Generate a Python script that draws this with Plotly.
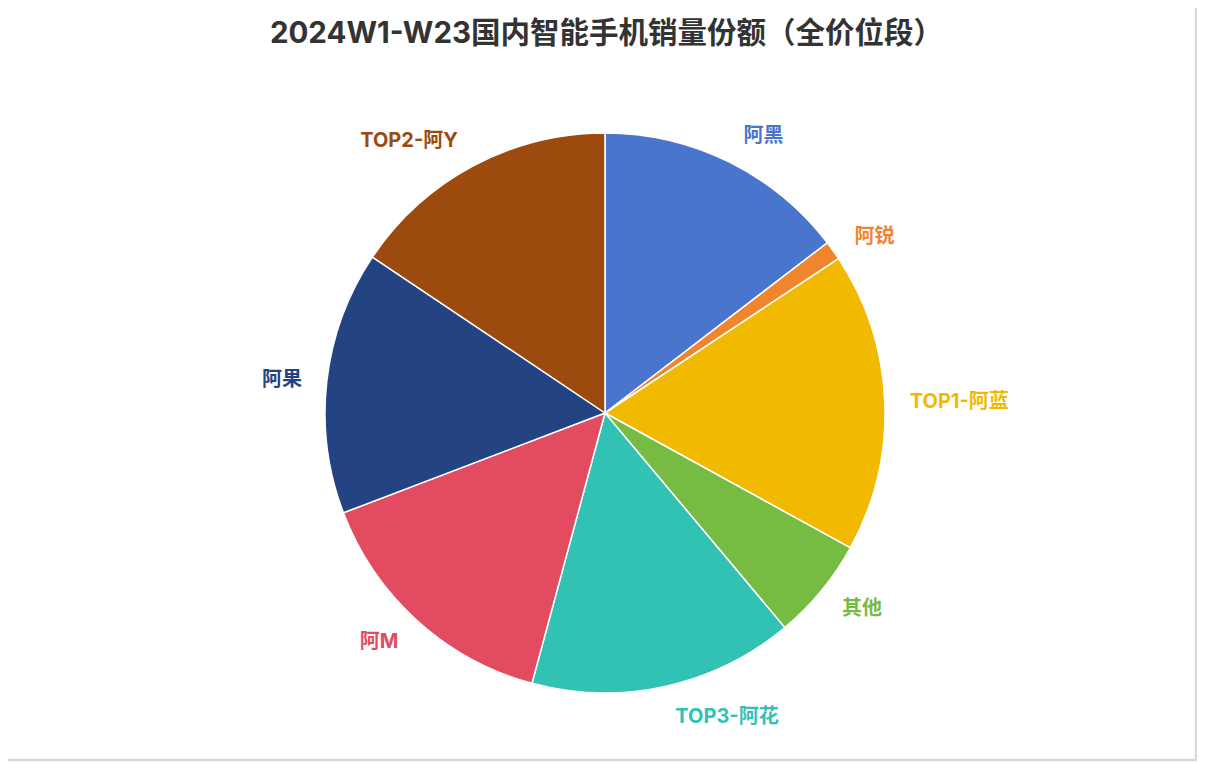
import plotly.graph_objects as go

brands = ["阿黑", "阿锐", "TOP1-阿蓝", "其他", "TOP3-阿花", "阿M", "阿果", "TOP2-阿Y"]
shares = [14.6, 1.1, 17.3, 5.9, 15.3, 15.0, 15.2, 15.6]
colors = ["#4a75cc", "#f0852e", "#f1ba00", "#76bc43", "#32c2b4", "#e34b60", "#244382", "#9c4a0d"]

# page body has an 8px margin, so the figure is shrunk and shifted by it
OFF = 8
W, H = 1205 - OFF, 762 - OFF
cx, cy, r = 605 - OFF, 413 - OFF, 280
r_lab = 299  # invisible pie only used to push the labels a bit further out
font = "Inter, Noto Sans CJK SC"


def dom(rad):
    return dict(x=[(cx - rad) / W, (cx + rad) / W], y=[1 - (cy + rad) / H, 1 - (cy - rad) / H])


fig = go.Figure()

# labels layer
fig.add_trace(go.Pie(
    labels=brands,
    values=shares,
    sort=False,
    direction="clockwise",
    rotation=0,
    marker=dict(colors=["rgba(0,0,0,0)"] * len(brands), line=dict(width=0)),
    texttemplate="<b>%{label}</b>",
    textposition="outside",
    outsidetextfont=dict(color=colors, size=20, family=font),
    showlegend=False,
    hoverinfo="skip",
    domain=dom(r_lab),
))

# visible pie
fig.add_trace(go.Pie(
    labels=brands,
    values=shares,
    sort=False,
    direction="clockwise",
    rotation=0,
    marker=dict(colors=colors, line=dict(color="white", width=1.5)),
    textinfo="none",
    showlegend=False,
    hoverinfo="label+percent",
    domain=dom(r),
))

fig.update_layout(
    width=W, height=H,
    margin=dict(l=0, r=0, t=0, b=0),
    paper_bgcolor="white",
    plot_bgcolor="white",
    title=dict(
        text="<b>2024W1-W23国内智能手机销量份额（全价位段）</b>",
        x=0.5, xanchor="center", y=1 - (33 - OFF) / H, yanchor="middle",
        font=dict(family=font, size=29.5, color="#333333"),
    ),
    shapes=[dict(type="rect", xref="paper", yref="paper",
                 x0=-0.05, x1=1 - 9 / W, y0=2 / H, y1=1.05,
                 line=dict(color="#d9d9d9", width=2.5))],
)

fig.write_html("out.html")
